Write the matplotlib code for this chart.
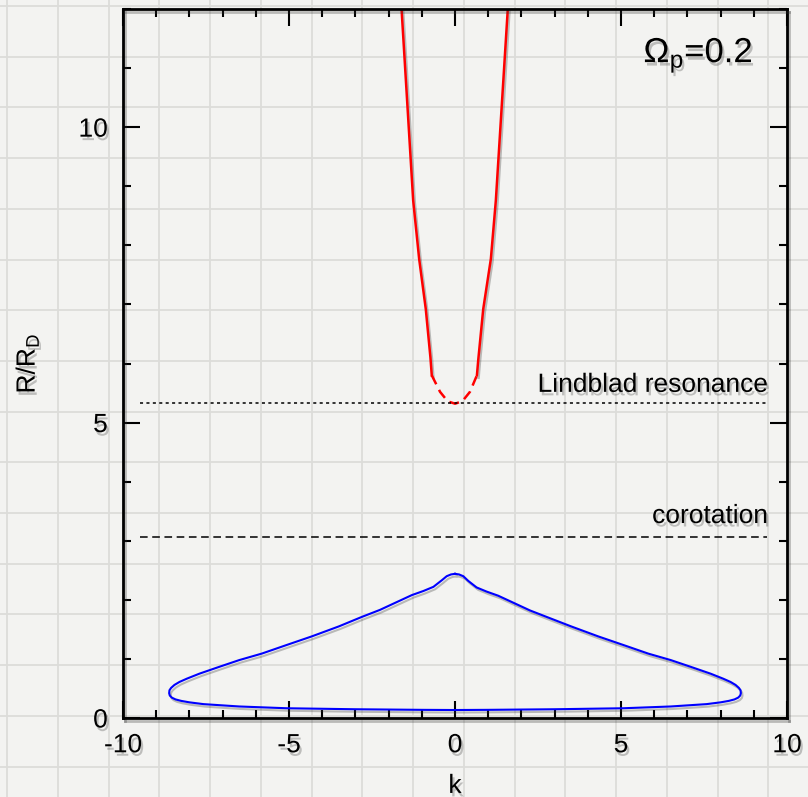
import numpy as np
import matplotlib
matplotlib.use('Agg')
import matplotlib.pyplot as plt
import matplotlib.patheffects as pe
from matplotlib.lines import Line2D

plt.rcParams['font.family'] = ['Liberation Sans', 'DejaVu Sans']
plt.rcParams['mathtext.fontset'] = 'custom'
plt.rcParams['mathtext.rm'] = 'Liberation Sans'
plt.rcParams['mathtext.it'] = 'Liberation Sans:italic'
plt.rcParams['axes.unicode_minus'] = False

# upper branch (solid), near-resonance part (dashed)
red_left_k = [-1.61, -1.26, -1.08, -0.88, -0.74, -0.70]
red_left_R = [12.0, 8.76, 7.77, 6.92, 6.10, 5.80]
red_mid_k = [-0.70, -0.45, -0.22, 0.0, 0.22, 0.45, 0.66]
red_mid_R = [5.80, 5.52, 5.36, 5.32, 5.36, 5.52, 5.80]
red_right_k = [0.66, 0.70, 0.85, 1.08, 1.23, 1.59]
red_right_R = [5.80, 6.06, 6.92, 7.77, 8.76, 12.0]

# closed orbit, starting at the top and going round anticlockwise
blue_k = [0.0, -0.12, -0.25, -0.40, -0.65, -0.95, -1.30, -1.80, -2.26, -2.81,
          -3.50, -4.32, -5.10, -5.82, -6.50, -7.08, -7.70, -8.08, -8.30,
          -8.45, -8.55, -8.60, -8.61, -8.59, -8.53, -8.42, -8.25, -8.00,
          -7.58, -6.50, -5.07, -3.00, -1.00, 0.0, 1.00, 3.00, 5.07, 6.50,
          7.58, 8.00, 8.25, 8.42, 8.53, 8.59, 8.61, 8.60, 8.55, 8.45, 8.30,
          8.08, 7.70, 7.08, 6.50, 5.82, 5.10, 4.32, 3.50, 2.81, 2.26, 1.80,
          1.30, 0.95, 0.65, 0.40, 0.25, 0.12, 0.0]
blue_R = [2.44, 2.43, 2.40, 2.33, 2.22, 2.15, 2.08, 1.95, 1.83, 1.71,
          1.55, 1.38, 1.23, 1.09, 0.98, 0.87, 0.75, 0.665, 0.61,
          0.56, 0.51, 0.47, 0.42, 0.38, 0.345, 0.315, 0.29, 0.265,
          0.235, 0.195, 0.165, 0.148, 0.138, 0.135, 0.138, 0.148, 0.165, 0.195,
          0.235, 0.265, 0.29, 0.315, 0.345, 0.38, 0.42, 0.47, 0.51, 0.56, 0.61,
          0.665, 0.75, 0.87, 0.98, 1.09, 1.23, 1.38, 1.55, 1.70, 1.82, 1.94,
          2.07, 2.14, 2.21, 2.32, 2.40, 2.43, 2.44]

R_lindblad = 5.33
R_corotation = 3.06
k_span = [-9.5, 9.4]

fig = plt.figure(figsize=(8.08, 7.97), dpi=100)
fig.patch.set_facecolor('#f3f3f1')

# graph-paper background
W, H = 808.0, 797.0
for px in np.arange(7, W, 50.75):
    fig.add_artist(Line2D([px / W, px / W], [0, 1], color='#dcdcd9', lw=1.3, zorder=0))
for py in np.arange(6, H, 50.7):
    fig.add_artist(Line2D([0, 1], [1 - py / H, 1 - py / H], color='#dcdcd9', lw=1.3, zorder=0))

ax = fig.add_axes([123 / W, 79 / H, 664 / W, 709 / H])
ax.patch.set_alpha(0)

shadow_txt = [pe.SimplePatchShadow(offset=(1.5, -2.5), shadow_rgbFace='0.25', alpha=0.3), pe.Normal()]
shadow_line = [pe.SimpleLineShadow(offset=(1.2, -1.8), shadow_color='0.2', alpha=0.3), pe.Normal()]

ax.plot(red_left_k, red_left_R, color='red', lw=1.8, path_effects=shadow_line)
ax.plot(red_right_k, red_right_R, color='red', lw=1.8, path_effects=shadow_line)
ax.plot(red_mid_k, red_mid_R, color='red', lw=1.8, ls=(0, (4, 2.5)))
ax.plot(blue_k, blue_R, color='blue', lw=1.5, path_effects=shadow_line)

ax.plot(k_span, [R_lindblad, R_lindblad], color='black', lw=1.1, ls=(0, (2, 2.2)))
ax.plot(k_span, [R_corotation, R_corotation], color='black', lw=1.1, ls=(0, (5, 3)))

ax.text(9.43, 5.52, 'Lindblad resonance', ha='right', va='baseline', fontsize=19,
        path_effects=shadow_txt)
ax.text(9.43, 3.30, 'corotation', ha='right', va='baseline', fontsize=19,
        path_effects=shadow_txt)
ax.text(8.98, 11.1, r'Ω$_{\rm p}$=0.2', ha='right', va='baseline', fontsize=25,
        path_effects=shadow_txt)

ax.set_xlim(-10, 10)
ax.set_ylim(0, 12)
ax.set_xticks([-10, -5, 0, 5, 10])
ax.set_yticks([0, 5, 10])
ax.set_xticks(np.arange(-10, 11, 1), minor=True)
ax.set_yticks(np.arange(0, 13, 1), minor=True)
ax.tick_params(which='both', direction='in', top=True, right=True, width=1.5)
ax.tick_params(which='major', length=12, labelsize=19, pad=11)
ax.tick_params(which='minor', length=6)
for lab in ax.get_xticklabels() + ax.get_yticklabels():
    lab.set_path_effects(shadow_txt)
for sp in ax.spines.values():
    sp.set_linewidth(2)
    sp.set_path_effects(shadow_line)

ax.set_xlabel('k', fontsize=19, labelpad=12, path_effects=shadow_txt)
ax.set_ylabel(r'R/R$_{\rm D}$', fontsize=19, labelpad=27, path_effects=shadow_txt)

fig.savefig('out.png', dpi=100, facecolor=fig.get_facecolor())
